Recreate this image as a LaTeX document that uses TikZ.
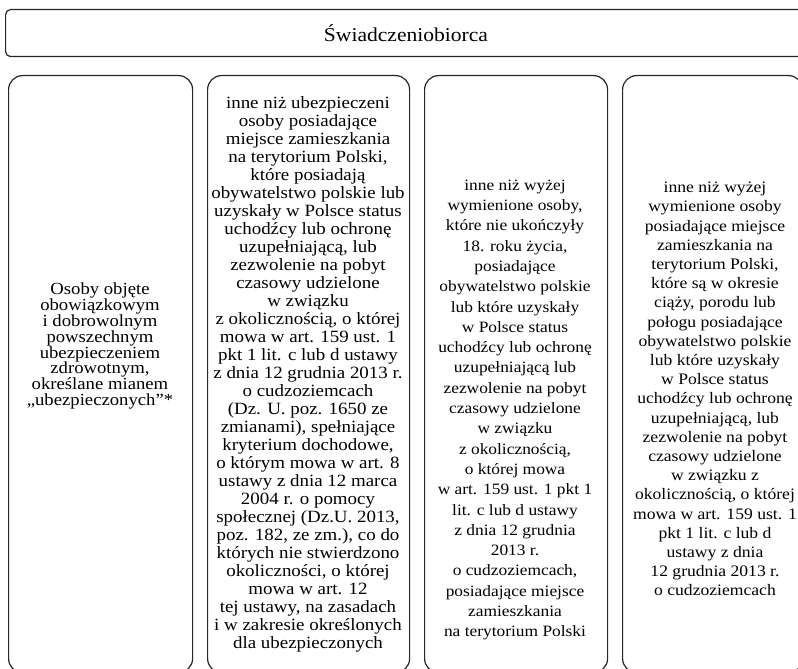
\documentclass[tikz,border=0pt]{standalone}
\usepackage{fontspec}
\setmainfont{Liberation Serif}[FakeStretch=1.1]
\newcommand\mytightls{\lineskiplimit-20pt\relax}
\begin{document}
\begin{tikzpicture}[x=1pt,y=-1pt,
  colbox/.style={draw=black!85, line width=1.2pt, rounded corners=14pt, inner sep=0pt, anchor=north west},
  hdrbox/.style={draw=black!85, line width=1.2pt, rounded corners=5pt, inner sep=0pt, anchor=north west},
  txt/.style={align=center, inner sep=0pt},
]
\useasboundingbox (0,0) rectangle (798,669);
\clip (0,0) rectangle (798,669);
\node[hdrbox, minimum width=800pt, minimum height=47pt] (hdr) at (5,9) {};
\node[txt, font=\fontsize{19.6}{20}\selectfont] (hdrt) at (406,33) {Świadczeniobiorca};
\node[colbox, minimum width=184pt, minimum height=597pt] (c1) at (8,75) {};
\node[colbox, minimum width=202pt, minimum height=597pt] (c2) at (207,75) {};
\node[colbox, minimum width=183pt, minimum height=597pt] (c3) at (424,75) {};
\node[colbox, minimum width=180pt, minimum height=597pt] (c4) at (622,75) {};
\node[txt, font={\fontsize{17}{15.9}\selectfont\mytightls}] (t1) at (100,346) {Osoby objęte\\obowiązkowym\\i dobrowolnym\\powszechnym\\ubezpieczeniem\\zdrowotnym,\\określane mianem\\„ubezpieczonych”*};
\node[txt, font={\fontsize{17.2}{18}\selectfont\mytightls}] (t2) at (308,374) {inne niż ubezpieczeni\\osoby posiadające\\miejsce zamieszkania\\na terytorium Polski,\\które posiadają\\obywatelstwo polskie lub\\uzyskały w Polsce status\\uchodźcy lub ochronę\\uzupełniającą, lub\\zezwolenie na pobyt\\czasowy udzielone\\w związku\\z okolicznością, o której\\mowa w art. 159 ust. 1\\pkt 1 lit. c lub d ustawy\\z dnia 12 grudnia 2013 r.\\o cudzoziemcach\\(Dz. U. poz. 1650 ze\\zmianami), spełniające\\kryterium dochodowe,\\o którym mowa w art. 8\\ustawy z dnia 12 marca\\2004 r. o pomocy\\społecznej (Dz.U. 2013,\\poz. 182, ze zm.), co do\\których nie stwierdzono\\okoliczności, o której\\mowa w art. 12\\tej ustawy, na zasadach\\i w zakresie określonych\\dla ubezpieczonych};
\node[txt, font={\fontsize{15.8}{20.3}\selectfont}] (t3) at (515,410) {inne niż wyżej\\wymienione osoby,\\które nie ukończyły\\18. roku życia,\\posiadające\\obywatelstwo polskie\\lub które uzyskały\\w Polsce status\\uchodźcy lub ochronę\\uzupełniającą lub\\zezwolenie na pobyt\\czasowy udzielone\\w związku\\z okolicznością,\\o której mowa\\w art. 159 ust. 1 pkt 1\\lit. c lub d ustawy\\z dnia 12 grudnia\\2013 r.\\o cudzoziemcach,\\posiadające miejsce\\zamieszkania\\na terytorium Polski};
\node[txt, font={\fontsize{16}{19.2}\selectfont}] (t4) at (715,389) {inne niż wyżej\\wymienione osoby\\posiadające miejsce\\zamieszkania na\\terytorium Polski,\\które są w okresie\\ciąży, porodu lub\\połogu posiadające\\obywatelstwo polskie\\lub które uzyskały\\w Polsce status\\uchodźcy lub ochronę\\uzupełniającą, lub\\zezwolenie na pobyt\\czasowy udzielone\\w związku z\\okolicznością, o której\\mowa w art. 159 ust. 1\\pkt 1 lit. c lub d\\ustawy z dnia\\12 grudnia 2013 r.\\o cudzoziemcach};
\end{tikzpicture}
\end{document}
